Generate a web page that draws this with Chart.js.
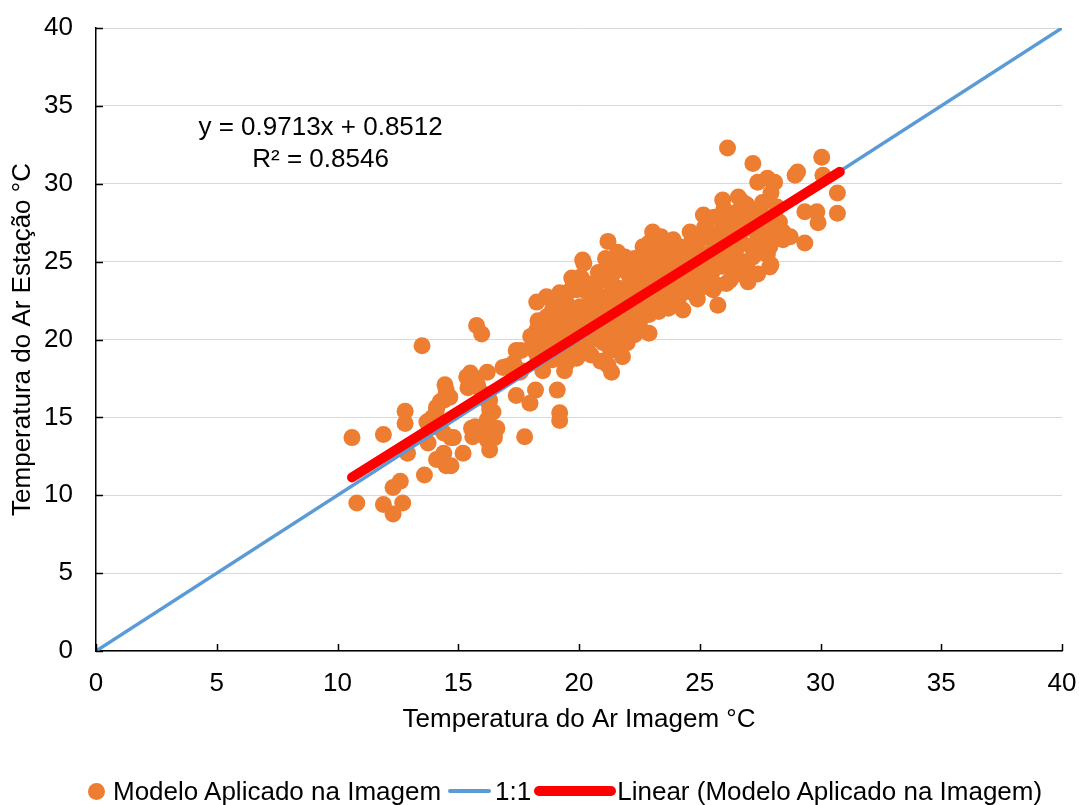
<!DOCTYPE html>
<html>
<head>
<meta charset="utf-8">
<title>Temperatura do Ar</title>
<script src="https://cdn.jsdelivr.net/npm/chart.js@4.4.1/dist/chart.umd.min.js"></script>
<style>
    html, body { margin: 0; padding: 0; background: #fff; }
    #wrap { position: relative; width: 1079px; height: 805px; }
    #legend {
        position: absolute; left: 88px; top: 775px;
        display: flex; align-items: center;
        font-family: "Liberation Sans", Arial, sans-serif; font-size: 26px; line-height: 32px;
        color: #000; white-space: nowrap;
    }
    .dot { width: 17px; height: 17px; border-radius: 50%; background: #ED7D31; margin-right: 8px; }
    .blue { width: 43px; height: 4px; background: #5B9BD5; border-radius: 2px; margin: 0 4px 0 7px; }
    .red { width: 82px; height: 10px; background: #FF0000; border-radius: 5px; margin: 0 1px 0 3px; }
</style>
</head>
<body>
<div id="wrap">
    <canvas id="chart" width="1079" height="805"></canvas>
    <div id="legend">
        <span class="dot"></span><span>Modelo Aplicado na Imagem</span>
        <span class="blue"></span><span>1:1</span>
        <span class="red"></span><span>Linear (Modelo Aplicado na Imagem)</span>
    </div>
</div>
<script>
// ======================================================
// DATA
// ======================================================
const TICKS = [0, 5, 10, 15, 20, 25, 30, 35, 40];
const LINE_11 = [0, 40];
const TREND_X = [10.6, 30.8];
const TREND_SLOPE = 0.9713;
const TREND_INTERCEPT = 0.8512;
const TREND_LABEL = ["y = 0.9713x + 0.8512", "R² = 0.8546"];

// [imagem, estação]
const pontos = [
    // 10 - 13.6
    [10.6,13.7],[10.8,9.5],[11.9,13.9],[11.9,9.4],[12.3,10.5],[12.3,8.8],[12.6,10.9],[12.7,9.5],[12.8,15.4],[12.8,14.6],
    [12.9,12.7],[13.5,19.6],[13.6,11.3],
    // 13.7 - 17
    [13.7,14.7],[13.75,13.35],[13.8,14.8],[13.95,15.0],[14.05,14.4],[14.1,15.65],[14.1,15.5],[14.1,12.3],[14.25,16.0],[14.4,16.1],
    [14.4,14.0],[14.4,12.7],[14.45,17.1],[14.5,16.55],[14.5,16.75],[14.5,11.9],[14.65,16.3],[14.7,13.7],[14.7,11.9],[14.8,13.7],
    [15.2,12.7],[15.35,17.6],[15.4,16.9],[15.4,17.5],[15.5,17.85],[15.55,14.3],[15.6,13.75],[15.7,17.5],[15.7,14.4],[15.76,20.9],
    [15.8,17.1],[15.8,16.95],[15.8,14.0],[15.97,20.35],[16.0,16.55],[16.2,17.9],[16.2,14.85],[16.2,13.55],[16.2,14.2],[16.23,16.0],
    [16.3,16.1],[16.3,15.5],[16.3,14.3],[16.3,12.9],[16.44,15.35],[16.5,14.0],[16.5,13.7],[16.6,14.3],[16.85,18.2],[17.0,18.25],
    // 17 - 20
    [17.05,18.25],[17.3,18.5],[17.4,19.3],[17.4,16.4],[17.55,17.9],[17.6,18.0],[17.6,19.3],[17.75,13.75],[17.97,15.9],[18.1,19.6],
    [18.2,16.75],[18.25,20.6],[18.25,22.4],[18.3,18.7],[18.4,19.1],[18.5,18.0],[18.5,19.75],[18.65,21.45],[18.65,22.75],[18.7,18.9],
    [18.7,19.5],[18.7,22.7],[18.8,20.8],[18.9,19.3],[18.9,21.9],[18.9,18.7],[19.1,16.75],[19.1,21.9],[19.2,15.3],[19.2,14.8],
    [19.2,19.8],[19.2,23.0],[19.3,20.5],[19.5,18.5],[19.5,19.5],[19.5,22.0],[19.5,22.3],[19.55,23.05],[19.6,21.2],[19.7,23.95],
    [19.75,19.1],[19.75,23.8],[19.8,20.0],[19.9,23.2],[19.9,18.8],[20.0,21.5],
    [18.0,20.2],[18.3,21.2],[18.6,20.3],[19.0,20.0],[19.0,21.0],[19.3,22.6],[19.4,18.0],[19.7,20.6],[19.9,22.0],[19.3,21.6],
    [18.9,21.1],[18.2,19.2],[19.0,19.6],[19.6,20.3],[20.0,19.0],[19.4,19.1],
    // 20 - 23
    [20.05,20.15],[20.05,22.1],[20.05,21.7],[20.05,24.0],[20.1,23.95],[20.15,25.1],[20.2,24.9],[20.2,19.5],[20.3,20.8],[20.45,22.35],
    [20.45,23.55],[20.5,19.0],[20.6,20.8],[20.6,21.9],[20.75,22.55],[20.8,20.3],[20.9,23.8],[20.9,22.75],[21.0,21.45],[21.0,19.8],
    [21.1,25.2],[21.15,22.7],[21.15,24.65],[21.2,26.3],[21.2,18.35],[21.3,24.65],[21.35,17.9],[21.4,21.25],[21.4,21.9],[21.5,20.5],
    [21.6,25.6],[21.6,23.3],[21.7,19.5],[21.7,21.05],[21.8,24.9],[21.8,24.8],[21.8,20.6],[21.9,22.2],[22.0,19.8],[22.0,24.3],
    [22.1,21.45],[22.2,23.0],[22.4,24.65],[22.4,20.9],[22.4,22.35],[22.4,22.75],[22.5,24.3],[22.5,21.05],[22.65,25.95],[22.7,23.5],
    [22.8,25.55],[22.9,20.4],[22.95,23.0],
    [20.2,21.0],[20.3,23.1],[20.4,19.8],[20.7,21.3],[20.8,24.3],[20.9,18.6],[21.0,22.3],[21.2,20.0],[21.3,23.6],[21.6,22.6],
    [21.8,18.9],[21.9,21.6],[22.1,23.7],[22.3,20.3],[22.6,22.0],[22.8,24.6],[22.9,21.6],[22.9,26.2],[22.3,25.2],[21.9,25.3],
    [21.4,24.2],[20.7,23.0],[20.5,20.1],[21.0,20.6],[21.3,19.3],[21.6,21.8],[22.0,20.9],[22.3,21.8],[22.6,23.1],[22.9,22.4],
    [20.6,22.4],
    // 23 - 26
    [23.05,26.9],[23.1,24.0],[23.2,22.55],[23.35,24.45],[23.35,23.8],[23.35,22.35],[23.4,26.6],[23.5,25.75],[23.6,25.1],[23.6,23.2],
    [23.75,22.55],[23.9,26.4],[23.9,24.45],[24.0,25.5],[24.2,23.6],[24.2,23.2],[24.3,23.0],[24.3,21.9],[24.4,24.8],[24.5,26.0],
    [24.6,24.25],[24.6,23.4],[24.7,23.0],[24.8,25.2],[24.9,24.0],[25.15,28.0],[25.15,23.4],[25.2,27.2],[25.3,23.4],[25.4,26.85],
    [25.4,25.5],[25.5,24.3],[25.55,23.2],[25.6,27.85],[25.75,22.2],[25.8,25.0],[25.85,26.9],[25.95,28.95],[26.1,23.6],[26.15,32.3],
    [23.0,23.4],[23.2,25.3],[23.3,21.8],[23.5,24.1],[23.7,22.0],[23.8,23.7],[24.0,24.9],[24.1,22.6],[24.3,25.7],[24.5,23.8],
    [24.7,25.0],[24.9,22.6],[25.0,26.4],[25.2,24.6],[25.4,24.0],[25.6,26.2],[25.7,23.5],[25.9,24.7],[25.3,27.0],[24.6,26.9],
    [24.1,26.0],[23.7,25.8],[23.3,23.0],[23.6,24.6],[23.9,23.2],[24.2,24.3],[24.5,25.3],[24.9,25.7],[25.1,23.9],[25.6,25.4],
    // 26 - 31
    [26.25,27.7],[26.25,23.8],[26.4,24.65],[26.45,27.15],[26.5,25.8],[26.55,28.2],[26.6,29.15],[26.7,26.3],[26.95,28.65],[26.95,27.15],
    [26.95,24.65],[27.0,23.7],[27.15,28.2],[27.2,31.3],[27.3,25.5],[27.35,26.85],[27.4,30.1],[27.5,28.3],[27.5,26.25],[27.6,27.5],
    [27.8,30.35],[27.8,25.45],[27.9,25.95],[27.9,24.65],[27.95,29.4],[27.95,26.2],[27.95,24.8],[28.1,30.1],[28.1,28.0],[28.3,27.55],
    [28.3,26.85],[28.45,26.9],[28.45,26.4],[28.6,26.6],[28.75,26.6],[28.95,30.55],[29.05,30.75],[29.35,28.2],[29.35,26.2],[29.85,28.2],
    [29.9,27.5],[30.05,31.7],[30.1,30.55],[30.7,29.4],[30.7,28.1],
    [26.0,27.3],[26.2,25.2],[26.3,26.8],[26.6,24.2],[26.8,25.0],[27.1,26.0],[27.2,27.6],[27.4,24.2],[27.6,28.8],[27.7,26.6],
    [28.0,27.2],[28.2,28.5],[26.8,28.8],[26.0,28.4],[26.0,25.9],[26.4,26.2],[26.8,27.5],[27.2,25.3]
];

// ======================================================
// PLUGINS: inner tick marks + trendline equation
// ======================================================
const innerTicks = {
    id: "innerTicks",
    afterDraw(chart) {
        const { ctx, scales: { x, y } } = chart;
        ctx.save();
        ctx.strokeStyle = "#000";
        ctx.lineWidth = 1.5;
        ctx.beginPath();
        TICKS.forEach(v => {
            const px = Math.round(x.getPixelForValue(v)) + 0.5;
            ctx.moveTo(px, y.bottom);
            ctx.lineTo(px, y.bottom - 7);
            const py = Math.round(y.getPixelForValue(v)) + 0.5;
            ctx.moveTo(x.left, py);
            ctx.lineTo(x.left + 7, py);
        });
        ctx.stroke();
        ctx.restore();
    }
};

const trendLabel = {
    id: "trendLabel",
    afterDraw(chart) {
        const { ctx, scales: { x, y } } = chart;
        ctx.save();
        ctx.font = '26px "Liberation Sans", Arial, sans-serif';
        ctx.fillStyle = "#000";
        ctx.textAlign = "center";
        ctx.textBaseline = "middle";
        ctx.fillText(TREND_LABEL[0], x.getPixelForValue(9.3), y.getPixelForValue(33.6));
        ctx.fillText(TREND_LABEL[1], x.getPixelForValue(9.3), y.getPixelForValue(31.55));
        ctx.restore();
    }
};

// ======================================================
// CHART
// ======================================================
const FONT = { family: '"Liberation Sans", Arial, sans-serif', size: 26 };

new Chart(document.getElementById("chart"), {
    type: "scatter",
    data: {
        datasets: [
            {
                label: "Linear (Modelo Aplicado na Imagem)",
                data: TREND_X.map(v => ({ x: v, y: TREND_SLOPE * v + TREND_INTERCEPT })),
                showLine: true,
                borderColor: "#FF0000",
                borderWidth: 10,
                borderCapStyle: "round",
                pointRadius: 0,
                order: 0
            },
            {
                label: "1:1",
                data: LINE_11.map(v => ({ x: v, y: v })),
                showLine: true,
                borderColor: "#5B9BD5",
                borderWidth: 3.5,
                pointRadius: 0,
                order: 1
            },
            {
                label: "Modelo Aplicado na Imagem",
                data: pontos.map(p => ({ x: p[0], y: p[1] })),
                backgroundColor: "#ED7D31",
                borderWidth: 0,
                pointRadius: 8.5,
                order: 2
            }
        ]
    },
    options: {
        responsive: false,
        animation: false,
        events: [],
        layout: { padding: { top: 28, right: 17, bottom: 44, left: 0 } },
        plugins: {
            legend: { display: false },
            tooltip: { enabled: false }
        },
        scales: {
            x: {
                type: "linear", min: 0, max: 40,
                afterBuildTicks: s => { s.ticks = TICKS.map(v => ({ value: v })); },
                afterFit: s => { s.height = 110; s.paddingLeft = 0; s.paddingRight = 0; },
                ticks: { font: FONT, color: "#000", padding: 9 },
                grid: { display: false },
                border: { display: true, color: "#000", width: 1.5 },
                title: { display: true, text: "Temperatura do Ar Imagem °C", font: FONT, color: "#000", padding: { top: 0, bottom: 26 } }
            },
            y: {
                type: "linear", min: 0, max: 40,
                afterBuildTicks: s => { s.ticks = TICKS.map(v => ({ value: v })); },
                afterFit: s => { s.width = 96; s.paddingTop = 0; s.paddingBottom = 0; },
                ticks: { font: FONT, color: "#000", padding: 23 },
                grid: { color: "#D9D9D9", lineWidth: 1, drawTicks: false },
                border: { display: true, color: "#000", width: 1.5 },
                title: { display: true, text: "Temperatura do Ar Estação °C", font: FONT, color: "#000", padding: { top: 7, bottom: 0 } }
            }
        }
    },
    plugins: [innerTicks, trendLabel]
});
</script>
</body>
</html>
